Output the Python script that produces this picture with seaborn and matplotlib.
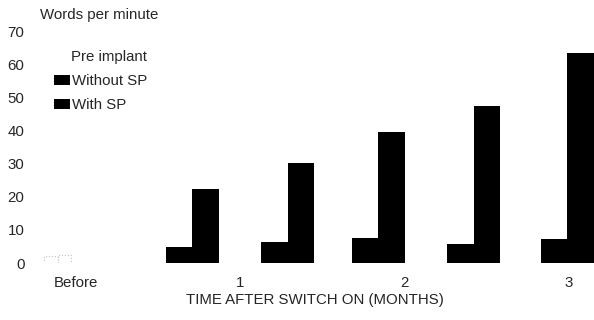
import matplotlib
matplotlib.use("Agg")
import matplotlib.pyplot as plt
import pandas as pd
import seaborn as sns

# time after switch on (months); "Before" sits just left of 0
times = [-0.11, 0.71, 1.29, 1.84, 2.42, 2.99]
without_sp = [2.0, 4.8, 6.3, 7.5, 5.7, 7.2]
with_sp = [2.5, 22.4, 30.3, 39.5, 47.3, 63.3]
groups = ["Without SP", "With SP"]
tick_vals = [0, 1, 2, 3]
tick_labels = ["Before", "1", "2", "3"]

df = pd.DataFrame({
    "time": times * 2,
    "wpm": without_sp + with_sp,
    "group": [groups[0]] * len(times) + [groups[1]] * len(times),
})

sns.set_style("white")
plt.rcParams["font.family"] = ["Liberation Sans", "DejaVu Sans"]
fs = 10.8

fig = plt.figure(figsize=(5.94, 3.2), dpi=100)
ax = fig.add_axes([0.06, 0.178, 0.94, 0.725])

sns.barplot(data=df, x="time", y="wpm", hue="group", hue_order=groups,
            palette=["black", "black"], native_scale=True, width=0.585,
            dodge=True, ax=ax, errorbar=None, saturation=1, linewidth=0)

# the "Before" bars are only faint, narrow dotted outlines in the original
for bar in ax.patches:
    if bar.get_x() < 0 and bar.get_height() > 0:
        w = bar.get_width()
        cx = -0.11
        left = bar.get_x()
        bar.set_x(cx + (left - cx) * 0.5)
        bar.set_width(w * 0.5)
        bar.set_facecolor("white")
        bar.set_edgecolor("#c4c4c4")
        bar.set_linestyle(":")
        bar.set_linewidth(0.8)

ax.set_xlim(-0.243, 3.152)
ax.set_ylim(0, 70)
ax.set_yticks(range(0, 71, 10))
ax.set_xticks(tick_vals)
ax.set_xticklabels(tick_labels)
ax.tick_params(axis="both", length=0, labelsize=fs)
ax.tick_params(axis="y", pad=8)
ax.tick_params(axis="x", pad=9.5)
sns.despine(ax=ax, left=True, bottom=True)

ax.set_ylabel("")
ax.set_xlabel("TIME AFTER SWITCH ON (MONTHS)", fontsize=fs, labelpad=2)
ax.text(0.008, 1.068, "Words per minute", transform=ax.transAxes,
        fontsize=fs, va="center", ha="left")

handles, labels = ax.get_legend_handles_labels()
leg = ax.legend(handles, labels, title="Pre implant", alignment="right",
                loc="upper left", bbox_to_anchor=(0.033, 0.92),
                frameon=False, fontsize=fs, title_fontsize=fs,
                handlelength=1.05, handleheight=0.65, handletextpad=0.15,
                labelspacing=0.68, borderpad=0, borderaxespad=0)

fig.savefig("out.png", dpi=100)
